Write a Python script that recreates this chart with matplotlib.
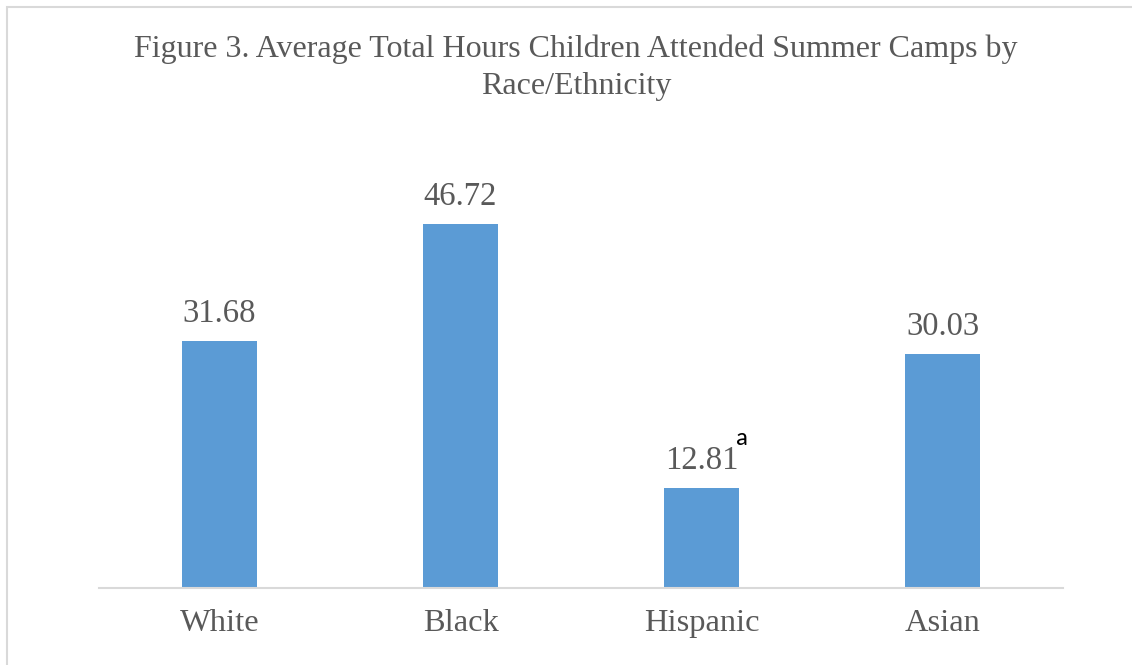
import matplotlib.pyplot as plt
from matplotlib.patches import Rectangle

# data
groups = ['White', 'Black', 'Hispanic', 'Asian']
hours = [31.68, 46.72, 12.81, 30.03]
notes = ['', '', 'a', '']

bar_color = '#5B9BD5'
text_color = '#595959'
line_color = '#D9D9D9'

plt.rcParams['font.family'] = ['Liberation Serif', 'DejaVu Serif']

fig = plt.figure(figsize=(11.32, 6.65), dpi=100)

# outer chart border (runs off the right and bottom edge)
fig.patches.append(Rectangle((6.5 / 1132, -0.1), 1.2, 1 - 7.5 / 665 + 0.1,
                             transform=fig.transFigure, fill=False,
                             edgecolor=line_color, linewidth=1.5))

ax = fig.add_axes([99 / 1132, 77 / 665, 964 / 1132, 428 / 665])
x = range(len(groups))
ax.bar(x, hours, width=0.31, color=bar_color)
ax.set_xlim(-0.5, len(groups) - 0.5)
ax.set_ylim(0, 55)

for i, v in enumerate(hours):
    ax.annotate(f"{v:.2f}", xy=(i, v), xytext=(0, 9), textcoords='offset points',
                ha='center', va='bottom', fontsize=23.5, color=text_color)
    if notes[i]:
        # superscript note next to the value label
        ax.annotate(notes[i], xy=(i, v), xytext=(25, 28), textcoords='offset points',
                    ha='left', va='bottom', fontsize=18, color='black',
                    family=['Carlito', 'Liberation Sans', 'DejaVu Sans'])

ax.set_xticks(list(x))
ax.set_xticklabels(groups, fontsize=23.4, color=text_color)
ax.tick_params(axis='x', length=0, pad=15)
ax.set_yticks([])
for s in ['top', 'right', 'left']:
    ax.spines[s].set_visible(False)
ax.spines['bottom'].set_color(line_color)
ax.spines['bottom'].set_linewidth(1.5)

fig.text(576 / 1132, 1 - 68 / 665,
         "Figure 3. Average Total Hours Children Attended Summer Camps by\nRace/Ethnicity",
         ha='center', va='center', fontsize=23, color=text_color, linespacing=1.38)

fig.savefig('out.png', dpi=100)
